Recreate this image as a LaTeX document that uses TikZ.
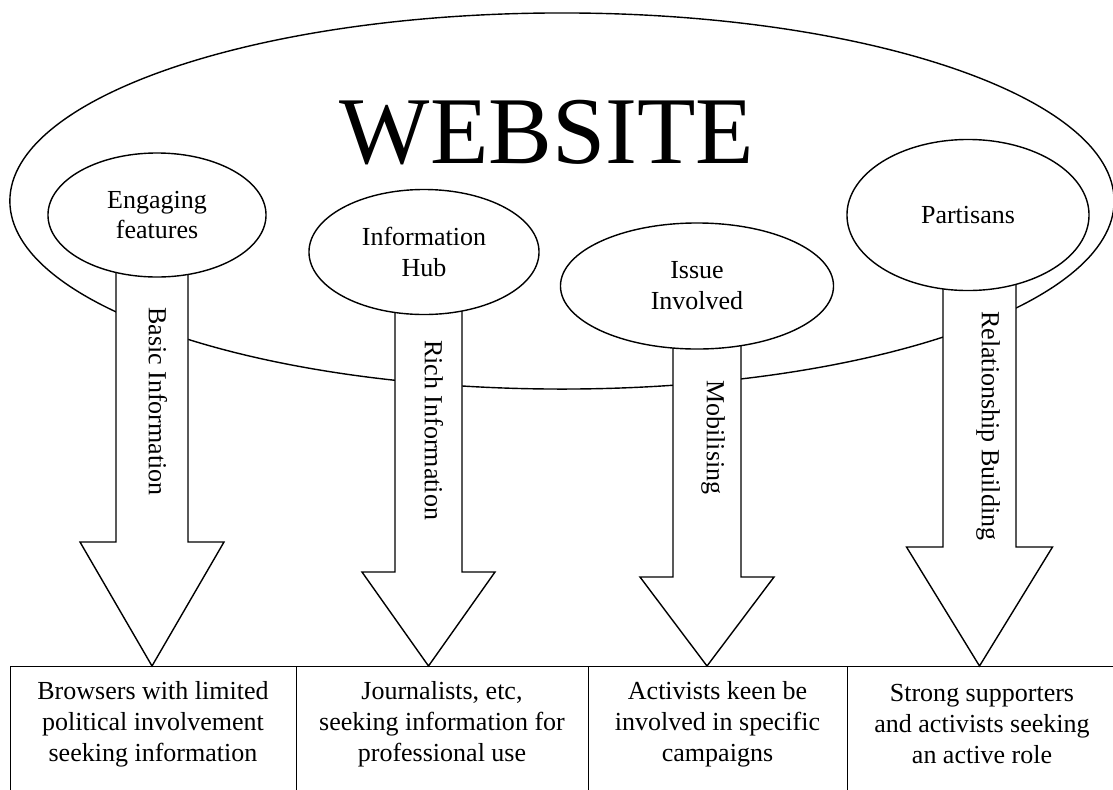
\documentclass[tikz,border=0pt]{standalone}
\usepackage{fontspec}
\setmainfont{Liberation Serif}
\usetikzlibrary{shapes.geometric,backgrounds,positioning}

\newcommand{\txtsize}{\fontsize{18.5}{22}\selectfont}
\newcommand{\bigsize}{\fontsize{68}{80}\selectfont}

% block arrow: from, to, centre x, shaft half, head half, head top
\newcommand{\flowarrow}[6]{%
    \draw[flow] (#3-#4,0 |- #1.center) -- (#3-#4,#6) -- (#3-#5,#6)
        -- (#3,0 |- #2.north) -- (#3+#5,#6) -- (#3+#4,#6)
        -- (#3+#4,0 |- #1.center) -- cycle;}

\tikzset{
    website/.style={draw, line width=1pt, ellipse, inner sep=0pt, minimum width=27.6cm, minimum height=9.4cm},
    feature/.style={draw, line width=1pt, ellipse, fill=white, inner sep=0pt, align=center, font=\txtsize},
    flow/.style={draw, line width=1pt, fill=white, line join=miter},
    flowtext/.style={rotate=-90, anchor=west, inner sep=0pt, font=\txtsize},
    audience/.style={draw, line width=1pt, rectangle, anchor=north west, inner sep=0pt, minimum height=3.5cm},
    audtext/.style={align=center, inner sep=0pt, font=\txtsize}
}

\begin{document}
\begin{tikzpicture}[x=0.025cm, y=-0.025cm, line width=1pt]
    \useasboundingbox (0,0) rectangle (1113,790);
    \clip (0,0) rectangle (1113,790);
    % audiences
    \node[audience, minimum width=7.15cm] (browsers) at (10,666) {};
    \node[audience, minimum width=7.3cm] (journalists) at (296,666) {};
    \node[audience, minimum width=6.475cm] (activists) at (588,666) {};
    \node[audience, minimum width=6.75cm] (supporters) at (847,666) {};
    \node[audtext] (browserstxt) at (153,724) {Browsers with limited\\political involvement\\seeking information};
    \node[audtext] (journaliststxt) at (442,724) {Journalists, etc,\\seeking information for\\professional use};
    \node[audtext] (activiststxt) at (717.5,724) {Activists keen be\\involved in specific\\campaigns};
    \node[audtext] (supporterstxt) at (982,724) {Strong supporters\\and activists seeking\\an active role};
    % site features
    \node[feature, minimum width=5.45cm, minimum height=3.1cm] (engaging) at (157,215) {Engaging\\features};
    \node[feature, minimum width=5.75cm, minimum height=3.125cm] (hub) at (424,252) {Information\\Hub};
    \node[feature, minimum width=6.825cm, minimum height=3.15cm] (issue) at (697,286) {Issue\\Involved};
    \node[feature, minimum width=6.05cm, minimum height=3.775cm] (partisans) at (968,215) {Partisans};
    \begin{pgfonlayer}{background}
        \node[website] (site) at (562,201) {};
        \flowarrow{engaging}{browsers}{152}{36}{72}{542}
        \flowarrow{hub}{journalists}{428.5}{33.5}{66.5}{572}
        \flowarrow{issue}{activists}{707}{34}{67}{577}
        \flowarrow{partisans}{supporters}{979.5}{36.5}{73}{547}
    \end{pgfonlayer}
    \node[anchor=base, font=\bigsize] (title) at (547,163) {WEBSITE};
    \node[flowtext] (basic) at (158,307) {Basic Information};
    \node[flowtext] (rich) at (434,340) {Rich Information};
    \node[flowtext] (mobilising) at (713,380) {Mobilising};
    \node[flowtext] (relation) at (988,311) {Relationship Building};
\end{tikzpicture}
\end{document}
